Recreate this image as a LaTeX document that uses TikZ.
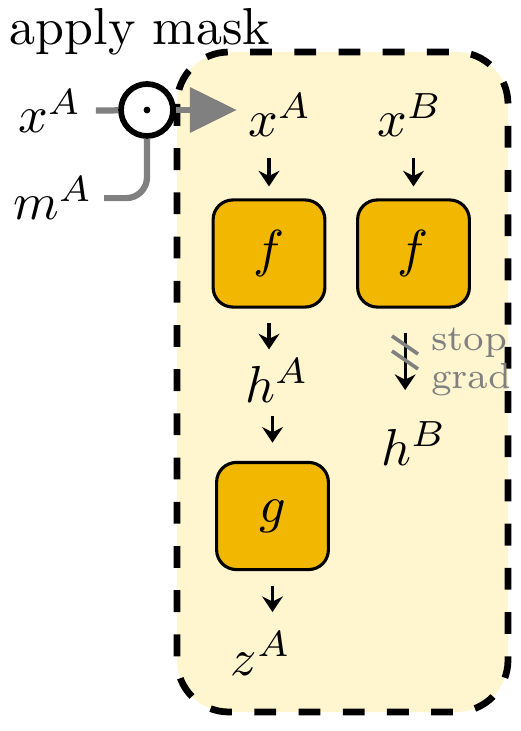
\documentclass[tikz,border=0pt]{standalone}
\usetikzlibrary{arrows.meta}
\definecolor{panel}{RGB}{255,246,208}
\definecolor{boxorange}{RGB}{242,183,0}
\definecolor{maskgray}{RGB}{128,128,128}
\begin{document}
\begin{tikzpicture}[x=0.19231pt,y=-0.19231pt,
  txt/.style={inner sep=0pt, anchor=base},
  fbox/.style={draw=black, line width=0.6pt, fill=boxorange, rounded corners=3.8pt, minimum width=21.5pt, minimum height=20.6pt, inner sep=0pt},
  arr/.style={line width=0.6pt, -{Stealth[length=3pt,width=4pt,inset=1pt]}},
  grayline/.style={draw=maskgray, line width=1.2pt},
  slash/.style={draw=maskgray, line width=0.7pt},
  container/.style={draw=black, fill=panel, line width=1.3pt, dash pattern=on 4.2pt off 4.3pt, rounded corners=10pt}
]
\useasboundingbox (0,0) rectangle (520,731);
\draw[container] (177,52) rectangle (508,712);

\node[txt] (title) at (140,45) {apply mask};
\node[txt] (xout) at (50,133) {$x^A$};
\node[txt] (mout) at (53,220) {$m^A$};
\node[circle, draw, line width=1.1pt, minimum size=10pt, inner sep=0pt] (odot) at (147,110) {};
\fill (odot.center) circle[radius=0.65pt];

\node[txt] (xA) at (280,137) {$x^A$};
\node[txt] (xB) at (410,137) {$x^B$};
\node[fbox] (fA) at (269,253.5) {$f$};
\node[fbox] (fB) at (413.5,253.5) {$f$};
\node[txt] (hA) at (277,402) {$h^A$};
\node[txt] (hB) at (414,465) {$h^B$};
\node[fbox] (gA) at (272.5,516) {$g$};
\node[txt] (zA) at (261,675) {$z^A$};
\node[inner sep=0pt, anchor=west, align=left, text=maskgray, font=\fontsize{7}{6.2}\selectfont] (sg) at (430,362) {stop\\grad};

\draw[grayline, shorten <=2.5pt] (xout) -- (odot);
\draw[grayline, rounded corners=4pt, shorten <=2pt] (mout) -| (odot);
\draw[grayline, -{Triangle[length=9pt,width=8.5pt]}, shorten >=2pt] (odot) -- (odot -| xA.west);

\draw[arr, shorten <=3.8pt, shorten >=2.3pt] (fA.north |- xA.south) -- (fA.north);
\draw[arr, shorten <=3.8pt, shorten >=2.3pt] (fB.north |- xB.south) -- (fB.north);
\draw[arr, shorten <=2.7pt, shorten >=1.5pt] (fA.south) -- (fA.south |- hA.north);
\draw[arr, shorten <=2.5pt, shorten >=3.5pt] (gA.north |- hA.south) -- (gA.north);
\draw[arr, shorten <=2.9pt, shorten >=3.5pt] (gA.south) -- (gA.south |- zA.north);
\draw[arr, shorten <=4.6pt, shorten >=5.8pt] ([xshift=-1.6pt]fB.south) -- ([xshift=-1.6pt]fB.south |- hB.north);
\draw[slash] (392,336) -- (418,354);
\draw[slash] (392,351) -- (418,369);
\end{tikzpicture}
\end{document}
